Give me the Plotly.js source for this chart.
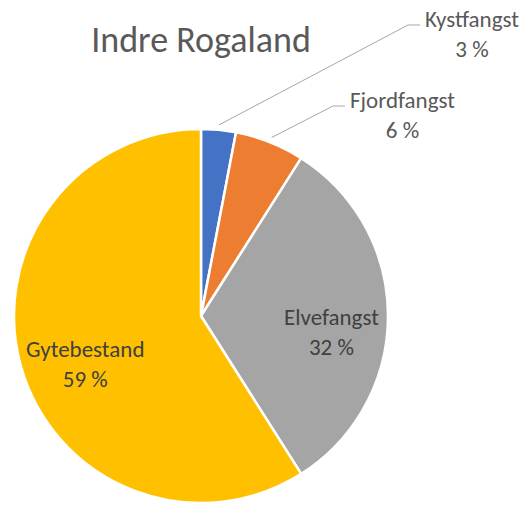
<!DOCTYPE html>
<html>
<head>
<meta charset="utf-8">
<script src="https://cdn.plot.ly/plotly-3.0.1.min.js"></script>
<style>
  html, body { margin: 0; padding: 0; background: #fff; }
  #graph { width: 527px; height: 507px; }
</style>
</head>
<body>
<div id="graph"></div>
<script>
const categories = ["Kystfangst", "Fjordfangst", "Elvefangst", "Gytebestand"];
const shares = [3, 6, 32, 59];
const colors = ["#4472C4", "#ED7D31", "#A5A5A5", "#FFC000"];
const outsideLabels = ["Kystfangst", "Fjordfangst"];

const W = 527, H = 507;
// pie box in pixels
const cx = 201, cy = 316, r = 187;
const FONT = 'Carlito, Lato, sans-serif';

// centre of each label block (pixels), and left edge of the outside ones
const labelPos = {
  "Kystfangst": [472, 34, 420],
  "Fjordfangst": [402, 115, 345],
  "Elvefangst": [331, 332],
  "Gytebestand": [85, 364]
};

const total = shares.reduce((s, v) => s + v, 0);
let cum = 0;
const annotations = [];
const shapes = [];
categories.forEach((cat, i) => {
  const mid = (cum + shares[i] / 2) / total;
  cum += shares[i];
  const [tx, ty, left] = labelPos[cat];
  const outside = outsideLabels.includes(cat);
  annotations.push({
    x: tx / W, y: 1 - ty / H, xref: 'paper', yref: 'paper',
    xanchor: 'center', yanchor: 'middle',
    text: cat + '<br>' + shares[i] + ' %',
    showarrow: false, align: 'center',
    font: {family: FONT, size: 23, color: outside ? '#595959' : '#404040'}
  });
  if (outside) {
    // leader line: slice edge -> elbow -> label
    const ang = mid * 2 * Math.PI;
    const px = cx + (r + 5) * Math.sin(ang);
    const py = cy - (r + 5) * Math.cos(ang);
    const ly = ty - 9;
    const toP = (x, y) => (x / W).toFixed(4) + ',' + (1 - y / H).toFixed(4);
    shapes.push({
      type: 'path', xref: 'paper', yref: 'paper',
      path: 'M' + toP(px, py) + ' L' + toP(left - 12, ly) + ' L' + toP(left, ly),
      line: {color: '#a6a6a6', width: 1}
    });
  }
});

const trace = {
  type: 'pie',
  labels: categories,
  values: shares,
  sort: false,
  direction: 'clockwise',
  rotation: 0,
  marker: {colors: colors, line: {color: '#ffffff', width: 2.5}},
  textinfo: 'none',
  hoverinfo: 'label+percent',
  domain: {x: [(cx - r) / W, (cx + r) / W], y: [1 - (cy + r) / H, 1 - (cy - r) / H]},
  showlegend: false
};

const layout = {
  width: W,
  height: H,
  margin: {l: 0, r: 0, t: 0, b: 0},
  paper_bgcolor: '#ffffff',
  title: {
    text: 'Indre Rogaland',
    x: cx / W, xanchor: 'center',
    y: 1 - 39 / H, yanchor: 'middle',
    font: {family: FONT, size: 36, color: '#595959'}
  },
  annotations: annotations,
  shapes: shapes,
  showlegend: false
};

Plotly.newPlot('graph', [trace], layout, {displayModeBar: false});
</script>
</body>
</html>
